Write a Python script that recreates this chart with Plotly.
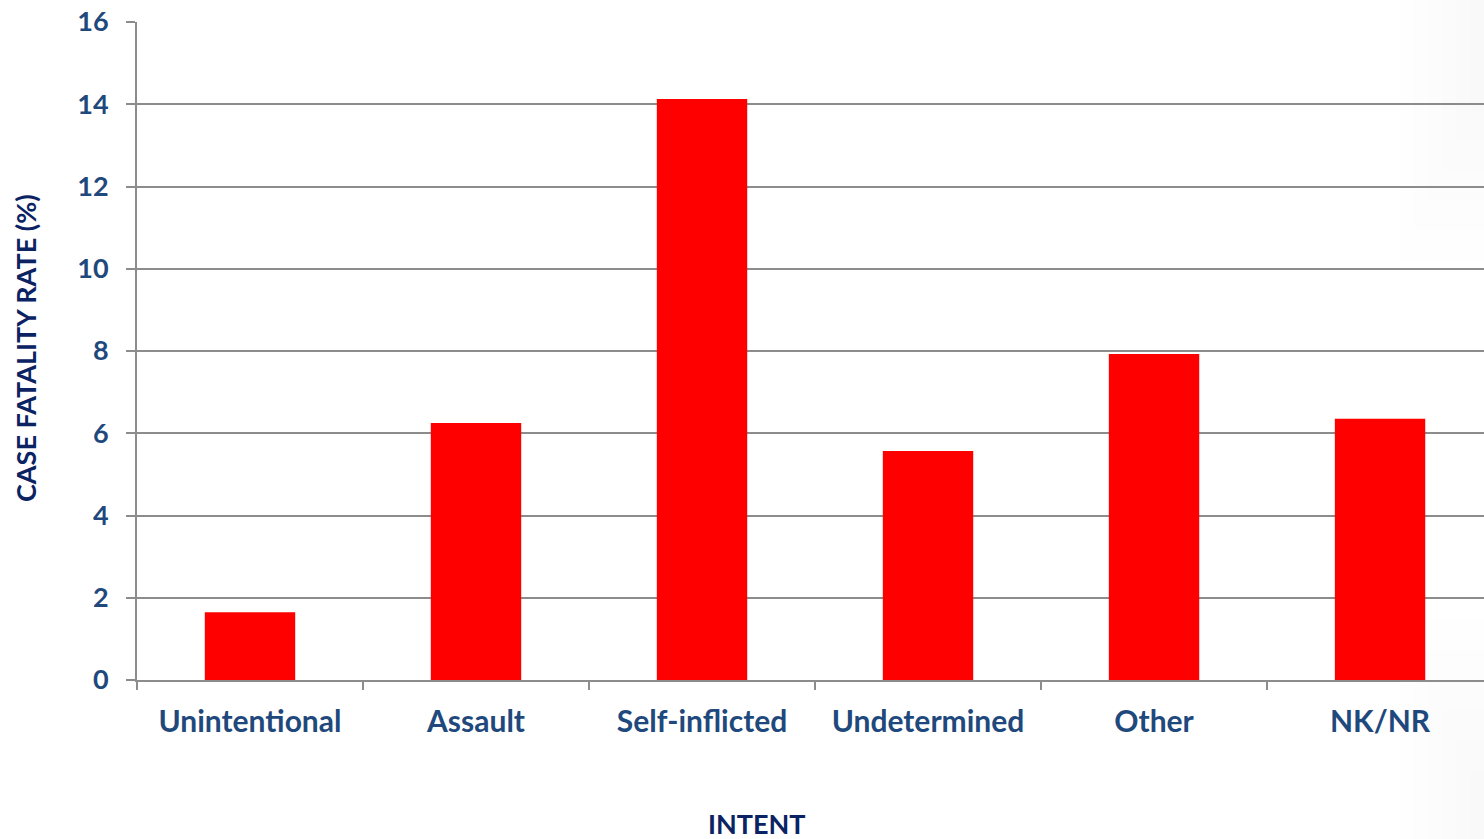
import plotly.graph_objects as go

categories = ["Unintentional", "Assault", "Self-inflicted", "Undetermined", "Other", "NK/NR"]
fatality_rate = [1.65, 6.25, 14.13, 5.57, 7.93, 6.35]
y_ticks = [0, 2, 4, 6, 8, 10, 12, 14, 16]

FONT = "Lato"
TICK_COLOR = "#1F497D"
TITLE_COLOR = "#0B2363"

W, H = 1484, 839
L, T, B = 137, 22, 159
PW, PH = W - L, H - T - B


def px_x(x):
    return (x - L) / PW


def px_y(y):
    return (H - B - y) / PH


fig = go.Figure(
    go.Bar(
        x=categories,
        y=fatality_rate,
        marker=dict(color="#FF0000", line=dict(width=0)),
        width=0.4,
    )
)

fig.update_layout(
    width=W,
    height=H,
    margin=dict(l=L, r=0, t=T, b=B),
    paper_bgcolor="white",
    plot_bgcolor="rgba(0,0,0,0)",
    showlegend=False,
    font=dict(family=FONT),
)

fig.update_xaxes(
    range=[-0.5, 5.46],
    showline=True,
    linecolor="#8C8C8C",
    linewidth=2,
    ticks="outside",
    tickson="boundaries",
    ticklen=8,
    tickwidth=2,
    tickcolor="#8C8C8C",
    showgrid=False,
    tickfont=dict(family=FONT, size=30, color=TICK_COLOR, weight="bold"),
    ticklabelstandoff=14,
)

fig.update_yaxes(
    range=[0, 16],
    tickvals=y_ticks,
    showline=True,
    linecolor="#8C8C8C",
    linewidth=2,
    ticks="outside",
    ticklen=9,
    tickwidth=2,
    tickcolor="#8C8C8C",
    showgrid=True,
    gridcolor="#8C8C8C",
    gridwidth=2,
    zeroline=False,
    tickfont=dict(family=FONT, size=27, color=TICK_COLOR, weight="bold"),
    ticklabelstandoff=12,
)

# very faint grey vignette in the right-hand corners
for i in range(6):
    x0 = 1400 + i * 14
    for (ya, yb) in [(0, 260 - i * 30), (620 + i * 30, H)]:
        fig.add_shape(
            type="rect", xref="paper", yref="paper",
            x0=px_x(x0), x1=px_x(W + 5),
            y0=px_y(yb), y1=px_y(ya),
            fillcolor="#808080", opacity=0.006, line=dict(width=0), layer="below",
        )
for i in range(4):
    fig.add_shape(
        type="rect", xref="paper", yref="paper",
        x0=px_x(1450 + i * 8), x1=px_x(W + 5),
        y0=px_y(H), y1=px_y(0),
        fillcolor="#808080", opacity=0.004, line=dict(width=0), layer="below",
    )

fig.add_annotation(
    text="CASE FATALITY RATE (%)",
    x=px_x(25), xref="paper",
    y=px_y(348), yref="paper",
    textangle=-90, showarrow=False,
    xanchor="center", yanchor="middle",
    font=dict(family=FONT, size=27, color=TITLE_COLOR, weight="bold"),
)

fig.add_annotation(
    text="INTENT",
    x=px_x(757), xref="paper",
    y=px_y(823), yref="paper",
    showarrow=False, xanchor="center", yanchor="middle",
    font=dict(family=FONT, size=27, color=TITLE_COLOR, weight="bold"),
)

fig.write_html(
    "out.html",
    config={"displayModeBar": False},
    post_script="document.body.style.margin='0';document.body.style.overflow='hidden';",
)
